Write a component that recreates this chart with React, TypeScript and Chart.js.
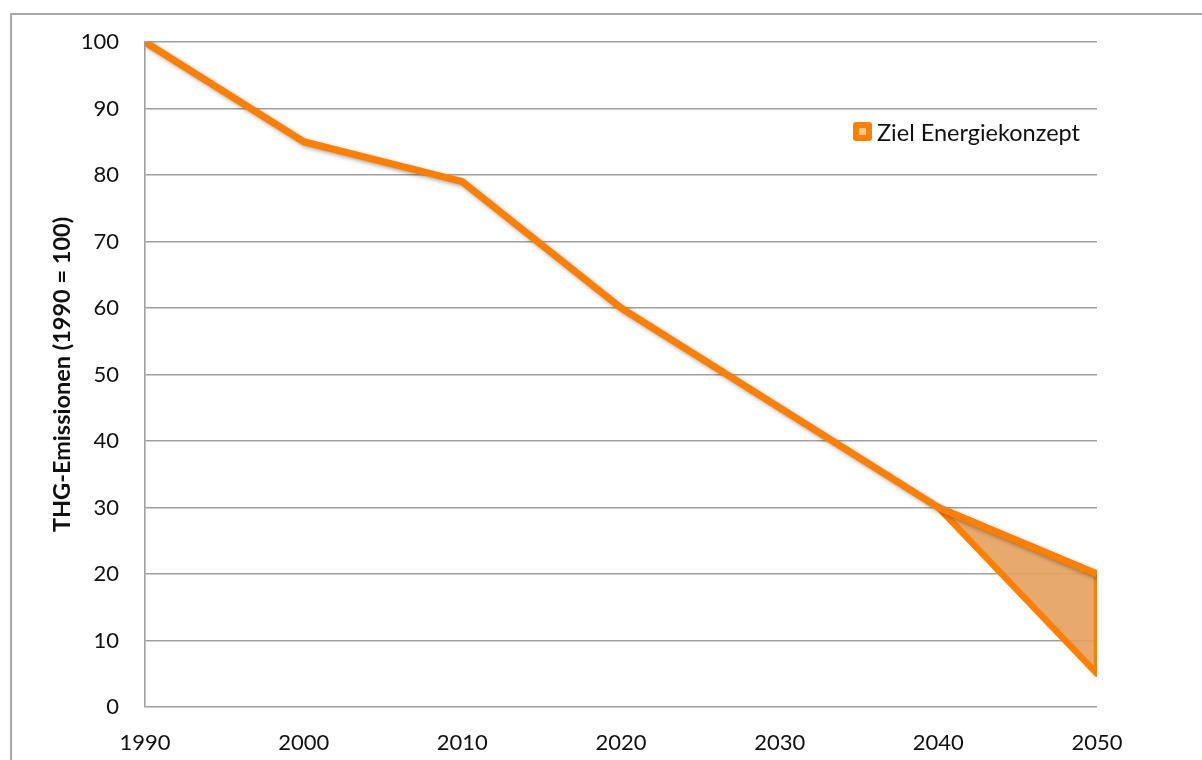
import React, { useEffect, useRef } from "react";
import { Chart, registerables } from "chart.js";

Chart.register(...registerables);

// ---- data ----
const years = [1990, 2000, 2010, 2020, 2030, 2040, 2050];
const zielPfad = [100, 85, 79, 60, 45, 30, 20];
const korridorYears = [2040, 2050, 2050, 2040];
const korridorValues = [30, 20, 5, 30];
const yAxisTitle = "THG-Emissionen (1990 = 100)";
const legendLabel = "Ziel Energiekonzept";

const ORANGE = "#FF8000";
const FILL = "rgba(228,160,92,0.9)";
const GRID = "#a0a0a0";
const FONT = "Lato, 'Open Sans', sans-serif";
const TITLE_SIZE = 23.5;

const framePlugin = {
  id: "frame",
  beforeDraw(chart: any) {
    const { ctx, width, height } = chart;
    ctx.save();
    ctx.fillStyle = "#ffffff";
    ctx.fillRect(0, 0, width, height);
    ctx.strokeStyle = "#a6a6a6";
    ctx.lineWidth = 2;
    ctx.beginPath();
    ctx.moveTo(11, height + 2);
    ctx.lineTo(11, 14);
    ctx.lineTo(width + 2, 14);
    ctx.stroke();
    ctx.restore();
  },
  afterDraw(chart: any) {
    const { ctx } = chart;
    ctx.save();
    // legend swatch
    const x = 853, y = 122, s = 19;
    ctx.fillStyle = ORANGE;
    ctx.beginPath();
    (ctx as any).roundRect ? ctx.roundRect(x, y, s, s, 3) : ctx.rect(x, y, s, s);
    ctx.fill();
    ctx.fillStyle = "#FFC890";
    ctx.fillRect(x + s / 2 - 3.5, y + s / 2 - 3.5, 7, 7);
    ctx.fillStyle = "#111";
    ctx.font = `23.5px ${FONT}`;
    ctx.textBaseline = "alphabetic";
    ctx.textAlign = "left";
    ctx.fillText(legendLabel, 877, 141);
    ctx.restore();
  },
};

const shadowPlugin = {
  id: "lineShadow",
  beforeDatasetDraw(chart: any, args: any) {
    const ctx = chart.ctx;
    ctx.save();
    if (args.index === 0) {
      ctx.shadowColor = "rgba(0,0,0,0.35)";
      ctx.shadowBlur = 4;
      ctx.shadowOffsetX = 2;
      ctx.shadowOffsetY = 2;
    }
  },
  afterDatasetDraw(chart: any) {
    chart.ctx.restore();
  },
};

export default function App() {
  const ref = useRef<HTMLCanvasElement | null>(null);
  useEffect(() => {
    if (!ref.current) return;
    const chart = new Chart(ref.current, {
      type: "line",
      data: {
        datasets: [
          {
            label: legendLabel,
            data: years.map((x, i) => ({ x, y: zielPfad[i] })),
            borderColor: ORANGE,
            borderWidth: 7,
            pointRadius: 0,
            fill: false,
            tension: 0,
            borderJoinStyle: "round",
            order: 1,
          },
          {
            label: "Korridor",
            data: korridorYears.map((x, i) => ({ x, y: korridorValues[i] })),
            borderColor: ORANGE,
            backgroundColor: FILL,
            borderWidth: 6.5,
            pointRadius: 0,
            fill: "shape",
            tension: 0,
            borderJoinStyle: "round",
            order: 2,
          },
        ],
      } as any,
      options: {
        responsive: false,
        animation: false,
        layout: { padding: { left: 0, top: 42, right: 105, bottom: 0 } },
        plugins: {
          legend: { display: false },
          tooltip: { enabled: false },
        },
        scales: {
          x: {
            type: "linear",
            min: 1990,
            max: 2050,
            grid: { display: false, drawTicks: false },
            border: { display: false },
            ticks: {
              stepSize: 10,
              padding: 23,
              color: "#111",
              font: { family: FONT, size: 22 },
              callback: (v: any) => String(v),
            },
            afterFit: (s: any) => {
              s.height = 53;
            },
          },
          y: {
            min: 0,
            max: 100,
            grid: { color: GRID, lineWidth: 1.6, drawTicks: false },
            border: { display: true, color: GRID, width: 1.6 },
            ticks: {
              stepSize: 10,
              padding: 26,
              color: "#111",
              font: { family: FONT, size: 22 },
            },
            title: {
              display: true,
              text: yAxisTitle,
              color: "#111",
              font: { family: FONT, size: TITLE_SIZE, weight: "bold" },
              padding: { top: 62 - (TITLE_SIZE * 1.2) / 2, bottom: 0 },
            },
            afterFit: (s: any) => {
              s.width = 145;
            },
          },
        },
      } as any,
      plugins: [framePlugin, shadowPlugin],
    });
    return () => chart.destroy();
  }, []);
  return (
    <div style={{ position: "fixed", left: 0, top: 0, width: 1202, height: 760 }}>
      <canvas ref={ref} width={1202} height={760} style={{ width: 1202, height: 760, display: "block" }} />
    </div>
  );
}
